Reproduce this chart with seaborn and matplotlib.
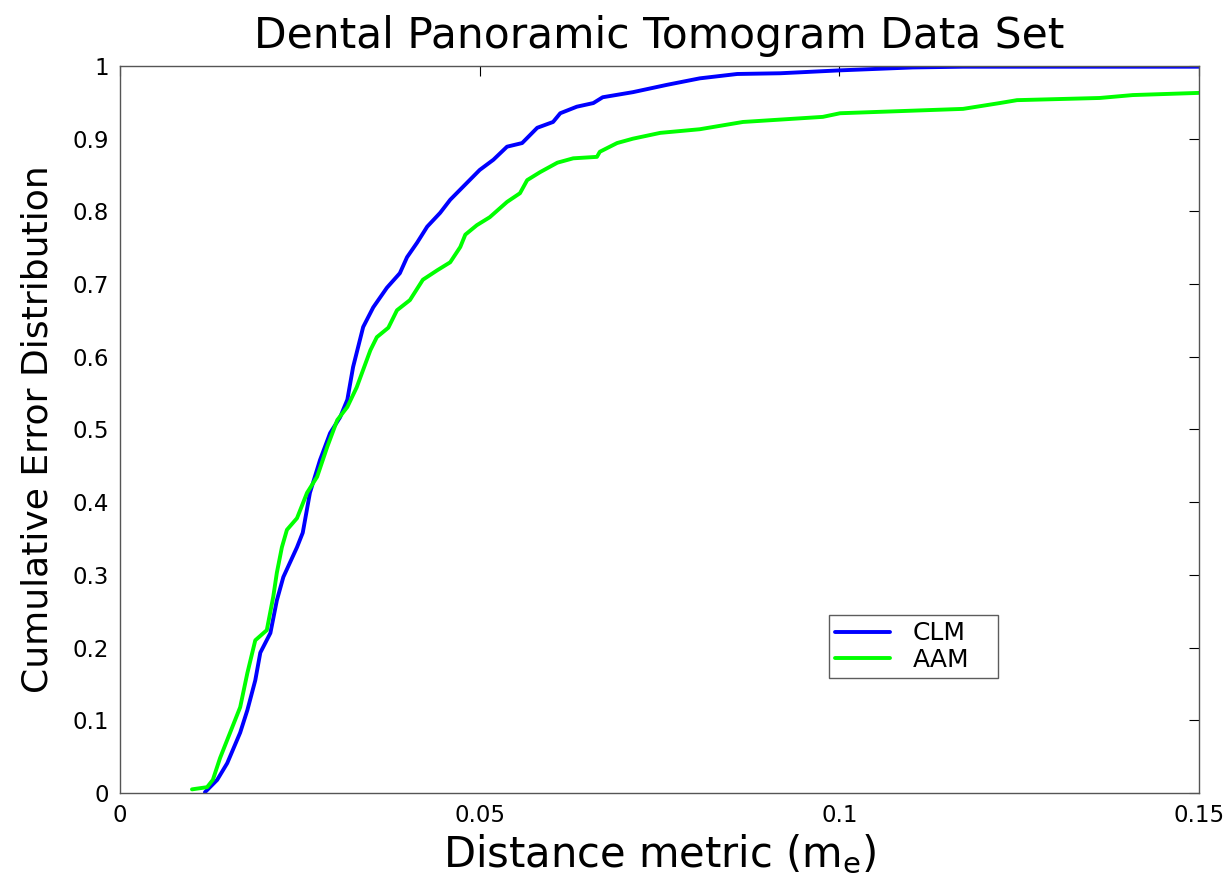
import matplotlib
matplotlib.use("Agg")
import matplotlib.pyplot as plt
import seaborn as sns
import pandas as pd

# ---- data ----
clm_x = [0.0118, 0.0135, 0.0149, 0.0167, 0.0177, 0.0188, 0.0195, 0.0209, 0.0218, 0.0227,
         0.0246, 0.0254, 0.0264, 0.0278, 0.0292, 0.0306, 0.0316, 0.0324, 0.0338, 0.0352,
         0.0371, 0.0389, 0.0399, 0.0413, 0.0427, 0.0445, 0.0459, 0.0477, 0.0500, 0.0519,
         0.0538, 0.0559, 0.0580, 0.0602, 0.0612, 0.0635, 0.0658, 0.0671, 0.0713, 0.0760,
         0.0806, 0.0858, 0.0918, 0.1001, 0.1102, 0.1172, 0.1500]
clm_y = [0.001, 0.018, 0.041, 0.083, 0.114, 0.155, 0.193, 0.220, 0.265, 0.297,
         0.338, 0.358, 0.413, 0.458, 0.495, 0.517, 0.541, 0.586, 0.641, 0.668,
         0.695, 0.715, 0.737, 0.757, 0.779, 0.798, 0.816, 0.834, 0.857, 0.871,
         0.889, 0.894, 0.915, 0.923, 0.935, 0.944, 0.949, 0.957, 0.964, 0.974,
         0.983, 0.989, 0.990, 0.994, 0.998, 0.999, 0.999]

aam_x = [0.0100, 0.0121, 0.0129, 0.0139, 0.0153, 0.0167, 0.0177, 0.0188, 0.0204, 0.0213,
         0.0218, 0.0225, 0.0232, 0.0246, 0.0260, 0.0274, 0.0288, 0.0302, 0.0316, 0.0329,
         0.0348, 0.0357, 0.0373, 0.0385, 0.0403, 0.0421, 0.0441, 0.0459, 0.0473, 0.0480,
         0.0496, 0.0514, 0.0538, 0.0556, 0.0566, 0.0584, 0.0608, 0.0630, 0.0663, 0.0667,
         0.0691, 0.0713, 0.0751, 0.0806, 0.0866, 0.0977, 0.1001, 0.1172, 0.1223, 0.1247,
         0.1362, 0.1408, 0.1500]
aam_y = [0.005, 0.008, 0.018, 0.048, 0.083, 0.118, 0.165, 0.210, 0.224, 0.270,
         0.303, 0.338, 0.362, 0.378, 0.413, 0.435, 0.476, 0.513, 0.531, 0.558,
         0.609, 0.627, 0.640, 0.664, 0.678, 0.706, 0.719, 0.730, 0.751, 0.768,
         0.781, 0.792, 0.813, 0.825, 0.843, 0.854, 0.867, 0.873, 0.875, 0.882,
         0.894, 0.900, 0.908, 0.913, 0.923, 0.930, 0.935, 0.941, 0.949, 0.953,
         0.956, 0.960, 0.963]

series_names = ["CLM", "AAM"]
series_colors = ["#0000ff", "#00ff00"]

x_ticks = [0, 0.05, 0.1, 0.15]
x_tick_labels = ["0", "0.05", "0.1", "0.15"]
y_ticks = [0, 0.1, 0.2, 0.3, 0.4, 0.5, 0.6, 0.7, 0.8, 0.9, 1.0]
y_tick_labels = ["0", "0.1", "0.2", "0.3", "0.4", "0.5", "0.6", "0.7", "0.8", "0.9", "1"]

title = "Dental Panoramic Tomogram Data Set"
xlabel = "Distance metric ($m_e$)"
ylabel = "Cumulative Error Distribution"

# ---- build table ----
df = pd.concat([
    pd.DataFrame({"x": clm_x, "y": clm_y, "method": series_names[0]}),
    pd.DataFrame({"x": aam_x, "y": aam_y, "method": series_names[1]}),
], ignore_index=True)

sns.set_style("white")
plt.rcParams["font.family"] = ["DejaVu Sans"]
plt.rcParams["mathtext.default"] = "regular"
plt.rcParams["text.color"] = "black"
plt.rcParams["axes.labelcolor"] = "black"
plt.rcParams["xtick.color"] = "black"
plt.rcParams["ytick.color"] = "black"

fig = plt.figure(figsize=(12.30, 8.81), dpi=100)
ax = fig.add_axes([0.0976, 0.0999, 0.8772, 0.8252])

sns.lineplot(data=df, x="x", y="y", hue="method", hue_order=series_names,
             palette=dict(zip(series_names, series_colors)), estimator=None,
             sort=False, linewidth=2.8, ax=ax)

ax.set_xlim(0, 0.15)
ax.set_ylim(0, 1)
ax.set_xticks(x_ticks)
ax.set_xticklabels(x_tick_labels)
ax.set_yticks(y_ticks)
ax.set_yticklabels(y_tick_labels)
ax.tick_params(direction="in", top=True, right=True, length=7, width=0.8,
               labelsize=16.5, colors="black", pad=8)
for s in ax.spines.values():
    s.set_visible(True)
    s.set_color("#555555")
    s.set_linewidth(1.0)

ax.set_title(title, fontsize=30.5, pad=13, color="black")
ax.set_xlabel(xlabel, fontsize=30, labelpad=4)
ax.set_ylabel(ylabel, fontsize=26, labelpad=13)

leg = ax.legend(loc="lower left", bbox_to_anchor=(0.657, 0.158, 0.157, 0.087),
                mode="expand", fontsize=18, frameon=True, fancybox=False,
                handlelength=2.2, borderpad=0.25, labelspacing=0.1, handletextpad=0.9,
                borderaxespad=0.0)
leg.get_frame().set_edgecolor("#333333")
leg.get_frame().set_linewidth(1.0)
for h in leg.get_lines():
    h.set_linewidth(2.8)

fig.savefig("out.png", dpi=100)
